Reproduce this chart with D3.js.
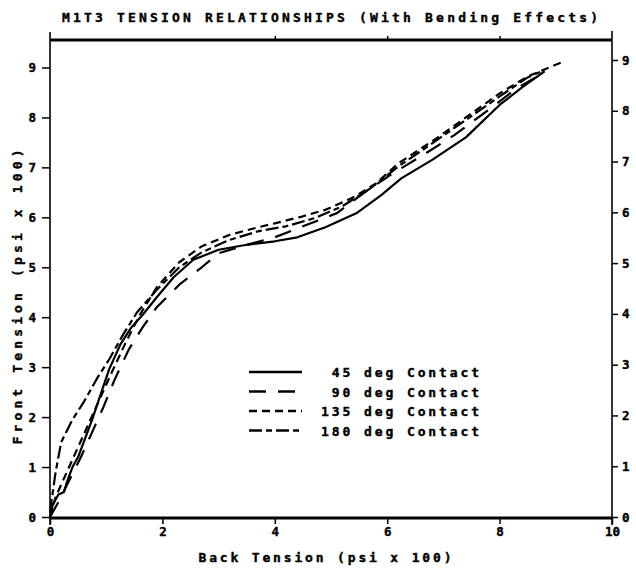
<!DOCTYPE html>
<html>
<head>
<meta charset="utf-8">
<script src="https://cdn.jsdelivr.net/npm/d3@7"></script>
<style>
    body { margin: 0; background: white; }
    text { font-family: 'DejaVu Sans Mono', monospace; font-weight: bold; fill: black; stroke: black; stroke-width: 0.4px; }
</style>
</head>
<body>
<div id="chart"></div>
<script>
const title = 'M1T3 TENSION RELATIONSHIPS (With Bending Effects)';
const xLabel = 'Back Tension (psi x 100)';
const yLabel = 'Front Tension (psi x 100)';

const xTicks = [0, 2, 4, 6, 8, 10];
const yTicks = [0, 1, 2, 3, 4, 5, 6, 7, 8, 9];
const topTicks = [4, 6, 8];

const seriesNames = ['45 deg Contact', '90 deg Contact', '135 deg Contact', '180 deg Contact'];

// [back tension, front tension]
const contact45 = [[0, 0], [0.05, 0.25], [0.15, 0.45], [0.25, 0.5], [0.3, 0.7], [0.4, 1.0], [0.5, 1.2],
    [0.6, 1.5], [0.75, 1.95], [0.9, 2.45], [1.05, 2.95], [1.25, 3.45], [1.45, 3.8], [1.65, 4.05],
    [1.9, 4.4], [2.2, 4.8], [2.55, 5.15], [3.0, 5.35], [3.5, 5.45], [4.0, 5.52], [4.4, 5.6], [4.9, 5.8],
    [5.45, 6.08], [5.9, 6.45], [6.25, 6.78], [6.8, 7.15], [7.4, 7.6], [8.0, 8.25], [8.4, 8.6], [8.8, 8.92]];
const contact90 = [[0, 0], [0.15, 0.3], [0.35, 0.75], [0.55, 1.2], [0.75, 1.7], [0.95, 2.2], [1.15, 2.75],
    [1.4, 3.35], [1.65, 3.8], [1.9, 4.2], [2.3, 4.65], [2.7, 5.0], [3.0, 5.28], [3.5, 5.45], [4.0, 5.6],
    [4.5, 5.82], [5.1, 6.08], [5.6, 6.5], [6.1, 6.88], [6.6, 7.22], [7.2, 7.65], [7.8, 8.15], [8.3, 8.58],
    [8.8, 8.9]];
const contact135 = [[0, 0], [0.1, 0.4], [0.3, 0.9], [0.5, 1.4], [0.7, 1.9], [0.9, 2.4], [1.1, 2.9],
    [1.35, 3.5], [1.6, 4.05], [1.9, 4.6], [2.3, 5.1], [2.7, 5.42], [3.2, 5.65], [3.7, 5.8], [4.0, 5.88],
    [4.5, 6.02], [4.9, 6.15], [5.4, 6.4], [5.8, 6.68], [6.2, 7.08], [6.9, 7.6], [7.4, 8.0], [8.0, 8.48],
    [8.5, 8.82], [9.1, 9.1]];
const contact180 = [[0, 0.1], [0.1, 0.9], [0.2, 1.5], [0.4, 1.95], [0.6, 2.3], [0.85, 2.8], [1.05, 3.15],
    [1.3, 3.65], [1.55, 4.1], [1.9, 4.55], [2.3, 5.0], [2.7, 5.3], [3.2, 5.55], [3.7, 5.72], [4.2, 5.82],
    [4.7, 5.98], [5.2, 6.22], [5.7, 6.58], [6.2, 7.02], [6.8, 7.48], [7.4, 7.95], [8.0, 8.42], [8.5, 8.8],
    [8.8, 8.95]];

const allSeries = [contact45, contact90, contact135, contact180];
const dashes = ['none', '17,12', '8,5', '13,4,6,4'];

const width = 636, height = 572;
const plotLeft = 50, plotRight = 612, plotTop = 40, plotBottom = 517;

const svg = d3.select('#chart')
    .append('svg')
    .attr('width', width)
    .attr('height', height);

const x = d3.scaleLinear().domain([0, 10]).range([plotLeft, plotRight]);
const y = d3.scaleLinear().domain([0, 9.55]).range([plotBottom, plotTop]);
// the right-hand scale in the scan is slightly stretched
const yRight = d3.scaleLinear().domain([0, 9]).range([plotBottom, 60]);

// frame
svg.append('line').attr('x1', plotLeft).attr('x2', plotRight).attr('y1', plotTop).attr('y2', plotTop)
    .attr('stroke', 'black').attr('stroke-width', 2.8);
svg.append('line').attr('x1', plotLeft).attr('x2', plotRight).attr('y1', plotBottom + 1).attr('y2', plotBottom + 1)
    .attr('stroke', 'black').attr('stroke-width', 2.8);
svg.append('line').attr('x1', plotLeft).attr('x2', plotLeft).attr('y1', 32).attr('y2', 525)
    .attr('stroke', 'black').attr('stroke-width', 1.6);
svg.append('line').attr('x1', plotRight).attr('x2', plotRight).attr('y1', 31).attr('y2', 525)
    .attr('stroke', 'black').attr('stroke-width', 1.6);

const leftAxis = svg.append('g')
    .attr('transform', `translate(${plotLeft},0)`)
    .call(d3.axisLeft(y).tickValues(yTicks).tickSize(8).tickPadding(6).tickFormat(d3.format('d')));
const rightAxis = svg.append('g')
    .attr('transform', `translate(${plotRight},0)`)
    .call(d3.axisRight(yRight).tickValues(yTicks).tickSize(6).tickPadding(4).tickFormat(d3.format('d')));
const bottomAxis = svg.append('g')
    .attr('transform', `translate(0,${plotBottom + 1})`)
    .call(d3.axisBottom(x).tickValues(xTicks).tickSize(6).tickPadding(3).tickFormat(d3.format('d')));
const topAxis = svg.append('g')
    .attr('transform', `translate(0,${plotTop})`)
    .call(d3.axisTop(x).tickValues(topTicks).tickSize(4).tickFormat(''));

[leftAxis, rightAxis, bottomAxis, topAxis].forEach(g => {
    g.select('.domain').remove();
    g.selectAll('line').attr('stroke', 'black').attr('stroke-width', 1.5);
    g.selectAll('text')
        .style('font-family', "'DejaVu Sans Mono', monospace")
        .style('font-weight', 'bold')
        .attr('font-size', 12.5);
});

// curves
const line = d3.line()
    .x(d => x(d[0]))
    .y(d => y(d[1]))
    .curve(d3.curveLinear);

svg.selectAll('path.curve')
    .data(allSeries).enter()
    .append('path')
    .attr('class', 'curve')
    .attr('d', line)
    .attr('fill', 'none')
    .attr('stroke', 'black')
    .attr('stroke-width', 2.2)
    .attr('stroke-linejoin', 'round')
    .attr('stroke-dasharray', (d, i) => dashes[i]);

// legend
const legend = svg.append('g').attr('transform', 'translate(249,372)');
const rows = legend.selectAll('g')
    .data(seriesNames).enter()
    .append('g')
    .attr('transform', (d, i) => `translate(0,${i * 19.5})`);
rows.append('line')
    .attr('x1', 0).attr('x2', 53).attr('y1', 0).attr('y2', 0)
    .attr('stroke', 'black').attr('stroke-width', 2.5)
    .attr('stroke-dasharray', (d, i) => dashes[i]);
rows.append('text')
    .attr('x', 233)
    .attr('y', 5)
    .attr('text-anchor', 'end')
    .attr('font-size', 13)
    .attr('letter-spacing', 2.9)
    .text(d => d);

// titles
svg.append('text')
    .attr('x', 330)
    .attr('y', 22)
    .attr('text-anchor', 'middle')
    .attr('font-size', 13)
    .attr('textLength', 536)
    .attr('lengthAdjust', 'spacing')
    .text(title);
svg.append('text')
    .attr('x', 325)
    .attr('y', 562)
    .attr('text-anchor', 'middle')
    .attr('font-size', 13)
    .attr('textLength', 253)
    .attr('lengthAdjust', 'spacing')
    .text(xLabel);
svg.append('text')
    .attr('transform', 'translate(22,297) rotate(-90)')
    .attr('text-anchor', 'middle')
    .attr('font-size', 13)
    .attr('textLength', 295)
    .attr('lengthAdjust', 'spacing')
    .text(yLabel);
</script>
</body>
</html>
